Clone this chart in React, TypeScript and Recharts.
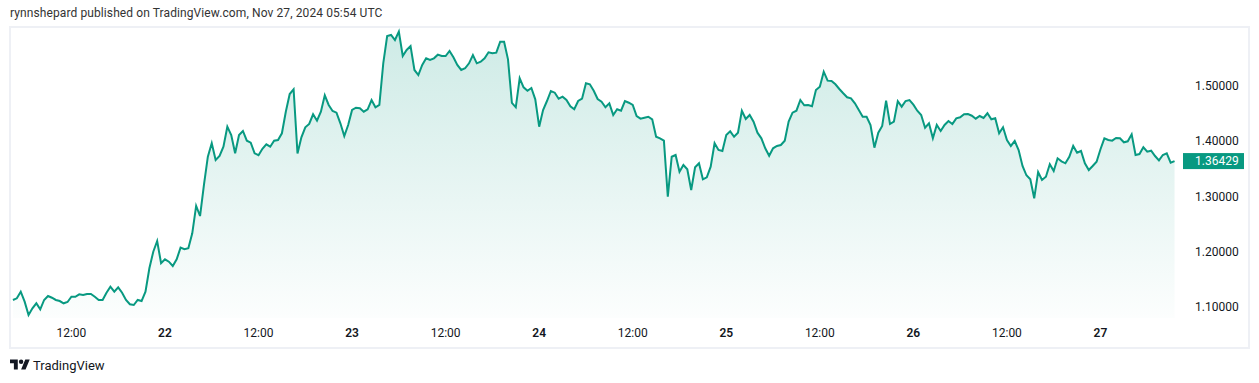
import React from 'react';
import { AreaChart, Area, XAxis, YAxis } from 'recharts';

// 30-minute closes, one array per calendar day (Nov 21 starts at 04:30)
const nov21 = [
  1.1122, 1.1152, 1.1272, 1.1091, 1.0849, 1.0971, 1.1062, 1.0953, 1.1122, 1.1194,
  1.1163, 1.1122, 1.1103, 1.1062, 1.1085, 1.1181, 1.1181, 1.1225, 1.1212, 1.123,
  1.123, 1.1181, 1.1122, 1.1122, 1.1254, 1.1363, 1.1272, 1.1352, 1.1254, 1.1122,
  1.1044, 1.1031, 1.1122, 1.1103, 1.1272, 1.1697, 1.1998, 1.2192, 1.1788,
];
const nov22 = [
  1.186, 1.1817, 1.1739, 1.186, 1.2071, 1.2042, 1.206, 1.2332, 1.2828, 1.2646,
  1.3209, 1.3722, 1.3966, 1.3662, 1.3735, 1.3904, 1.4267, 1.4116, 1.3784, 1.4116,
  1.4189, 1.4013, 1.3976, 1.3784, 1.375, 1.3867, 1.3947, 1.3904, 1.4013, 1.4025,
  1.4147, 1.4539, 1.486, 1.4946, 1.378, 1.4074, 1.4256, 1.4316, 1.4492, 1.4376,
  1.4539, 1.4837, 1.4661, 1.4552, 1.4521, 1.4328, 1.4098, 1.4298,
];
const nov23 = [
  1.457, 1.4612, 1.4601, 1.4539, 1.4583, 1.4751, 1.4619, 1.4661, 1.5417, 1.5913,
  1.5931, 1.584, 1.5991, 1.555, 1.5659, 1.5731, 1.5296, 1.5205, 1.5387, 1.5508,
  1.5477, 1.5508, 1.5574, 1.555, 1.555, 1.5641, 1.5526, 1.5387, 1.5296, 1.5327,
  1.5417, 1.5568, 1.5417, 1.5446, 1.5508, 1.5617, 1.5599, 1.561, 1.5809, 1.5809,
  1.549, 1.47, 1.4619, 1.5145, 1.4982, 1.492, 1.4969, 1.4764,
];
const nov24 = [
  1.4267, 1.457, 1.4733, 1.4915, 1.4884, 1.4775, 1.4811, 1.4751, 1.4637, 1.4583,
  1.4733, 1.4775, 1.5054, 1.5036, 1.492, 1.477, 1.4721, 1.4619, 1.4691, 1.4479,
  1.4583, 1.4557, 1.4733, 1.4702, 1.4661, 1.4461, 1.4412, 1.443, 1.4448, 1.4401,
  1.4085, 1.4056, 1.4013, 1.2996, 1.3722, 1.3753, 1.345, 1.3572, 1.3494, 1.3118,
  1.353, 1.3603, 1.3312, 1.3348, 1.3541, 1.3966, 1.3844, 1.3826,
];
const nov25 = [
  1.4116, 1.4183, 1.4085, 1.4158, 1.4557, 1.4407, 1.4479, 1.4358, 1.4158, 1.4056,
  1.3875, 1.374, 1.3875, 1.3917, 1.3935, 1.4013, 1.4358, 1.4521, 1.4557, 1.4751,
  1.4655, 1.4661, 1.4637, 1.4933, 1.4993, 1.5265, 1.5102, 1.5096, 1.5036, 1.4951,
  1.4873, 1.48, 1.4782, 1.4691, 1.457, 1.4448, 1.4448, 1.4298, 1.3886, 1.4158,
  1.4279, 1.4739, 1.4316, 1.4358, 1.4728, 1.463, 1.4733, 1.4751,
];
const nov26 = [
  1.4666, 1.4557, 1.4479, 1.4249, 1.4328, 1.4056, 1.4298, 1.4189, 1.4298, 1.437,
  1.4316, 1.4419, 1.4437, 1.4492, 1.4497, 1.4466, 1.4412, 1.4461, 1.4425, 1.451,
  1.4401, 1.4419, 1.4147, 1.4256, 1.4025, 1.3917, 1.4007, 1.3844, 1.3554, 1.3385,
  1.3312, 1.2967, 1.3445, 1.3299, 1.3359, 1.3584, 1.3463, 1.3693, 1.3639, 1.3603,
  1.3722, 1.3917, 1.3795, 1.3826, 1.3603, 1.3481, 1.3554, 1.3632,
];
const nov27 = [
  1.3857, 1.4056, 1.4025, 1.4013, 1.4062, 1.4056, 1.3984, 1.4002, 1.4129, 1.3753,
  1.3771, 1.3893, 1.3813, 1.3831, 1.3735, 1.3657, 1.3753, 1.3784, 1.3613, 1.36429,
];

// hours from Nov 22 00:00 of each day's first bar
const firstBarHour = [-19.5, 0, 24, 48, 72, 96, 120];
const barHours = 0.5;

const timeTicks = [-12, 0, 12, 24, 36, 48, 60, 72, 84, 96, 108, 120];
const timeTickLabels = ['12:00', '22', '12:00', '23', '12:00', '24', '12:00', '25', '12:00', '26', '12:00', '27'];
const priceTicks = [1.1, 1.2, 1.3, 1.4, 1.5];
const lastPrice = 1.36429;

const data = [nov21, nov22, nov23, nov24, nov25, nov26, nov27].flatMap((day, d) =>
  day.map((close, j) => ({ t: firstBarHour[d] + j * barHours, close }))
);

const GREEN = '#089981';
const FONT = 'Roboto, sans-serif';

const TimeTick = (props: any) => {
  const { x, y, payload } = props;
  const label = timeTickLabels[timeTicks.indexOf(payload.value)];
  const isDay = label !== '12:00';
  return (
    <text
      x={x}
      y={y + 15}
      textAnchor="middle"
      dominantBaseline="central"
      fontFamily={FONT}
      fontSize={12}
      fontWeight={isDay ? 600 : 400}
      fill="#131722"
    >
      {label}
    </text>
  );
};

const PriceTick = (props: any) => {
  const { x, y, payload } = props;
  if (payload.value === lastPrice) {
    return (
      <g>
        <rect x={x + 3} y={y - 8} width={61} height={16} fill={GREEN} />
        <text x={x + 15} y={y} dominantBaseline="central" fontFamily={FONT} fontSize={12} fill="#ffffff">
          {lastPrice.toFixed(5)}
        </text>
      </g>
    );
  }
  return (
    <text x={x + 15} y={y} dominantBaseline="central" fontFamily={FONT} fontSize={12} fill="#131722">
      {payload.value.toFixed(5)}
    </text>
  );
};

const App = () => {
  return (
    <div
      style={{
        position: 'absolute',
        left: 0,
        top: 0,
        width: 1259,
        height: 383,
        background: '#ffffff',
        fontFamily: FONT,
        overflow: 'hidden',
      }}
    >
      <div
        style={{
          position: 'absolute',
          left: 10,
          top: 6,
          fontSize: 12,
          letterSpacing: 0.1,
          color: '#333',
          whiteSpace: 'nowrap',
        }}
      >
        rynnshepard published on TradingView.com, Nov 27, 2024 05:54 UTC
      </div>
      <div
        style={{
          position: 'absolute',
          left: 9,
          top: 26,
          width: 1241,
          height: 323,
          boxSizing: 'border-box',
          border: '2px solid #eef0f5',
        }}
      />
      <div style={{ position: 'absolute', left: 0, top: 0 }}>
        <AreaChart width={1259} height={383} data={data} margin={{ top: 28, right: 0, bottom: 0, left: 11 }}>
          <defs>
            <linearGradient id="areaFill" x1="0" y1="0" x2="0" y2="1">
              <stop offset="0%" stopColor={GREEN} stopOpacity={0.33} />
              <stop offset="100%" stopColor={GREEN} stopOpacity={0.02} />
            </linearGradient>
          </defs>
          <XAxis
            dataKey="t"
            type="number"
            domain={[-19.75, 130.2]}
            ticks={timeTicks}
            height={65}
            axisLine={false}
            tickLine={false}
            tickSize={0}
            tickMargin={0}
            interval={0}
            tick={<TimeTick />}
          />
          <YAxis
            orientation="right"
            width={79}
            domain={[1.0795, 1.6058]}
            ticks={[...priceTicks, lastPrice]}
            axisLine={false}
            tickLine={false}
            tickSize={0}
            tickMargin={0}
            interval={0}
            allowDataOverflow
            tick={<PriceTick />}
          />
          <Area
            type="linear"
            dataKey="close"
            stroke={GREEN}
            strokeWidth={2}
            fill="url(#areaFill)"
            isAnimationActive={false}
            dot={false}
            activeDot={false}
          />
        </AreaChart>
      </div>
      <svg style={{ position: 'absolute', left: 10, top: 357 }} width={20} height={16} viewBox="0 0 36 28">
        <path d="M14 22H7V11H0V4h14v18zM28 22h-8l7.5-18h8L28 22z" fill="#131722" />
        <circle cx={20} cy={8} r={4} fill="#131722" />
      </svg>
      <div style={{ position: 'absolute', left: 33, top: 358, fontSize: 13, color: '#131722', whiteSpace: 'nowrap' }}>
        TradingView
      </div>
    </div>
  );
};

export default App;
